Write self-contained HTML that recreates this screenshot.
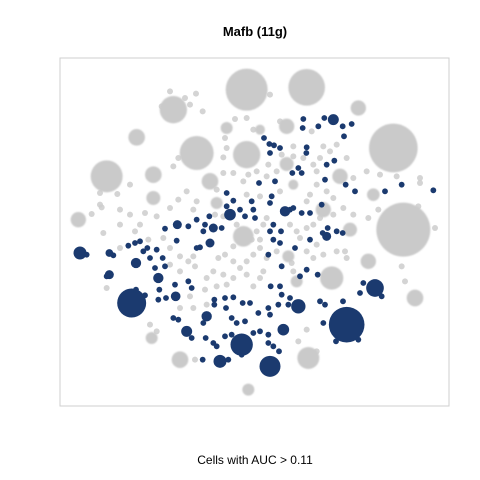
<!DOCTYPE html>
<html><head><meta charset="utf-8"><style>
html,body{margin:0;padding:0;background:#fff;}
svg{display:block;font-family:"Liberation Sans",sans-serif;}
</style></head><body>
<svg id="chart" width="480" height="480" viewBox="0 0 480 480">
<defs><filter id="soft" x="-20%" y="-20%" width="140%" height="140%"><feGaussianBlur stdDeviation="0.8"/></filter></defs>
<rect x="0" y="0" width="480" height="480" fill="#fff"/>
<text x="255" y="36" text-anchor="middle" font-size="13" font-weight="bold" fill="#000">Mafb (11g)</text>
<rect x="60" y="58" width="389" height="348" fill="none" stroke="#cfcfcf" stroke-width="1"/>
<g id="marks"></g>
<text x="255" y="464" text-anchor="middle" font-size="12" fill="#000">Cells with AUC &gt; 0.11</text>
</svg>
<script>
// cluster data: [x, y, radius] in embedding units
const greyClusters=[[560,95,60],[740,88,52],[340,155,38],[410,285,48],[560,290,38],[1000,270,70],[1030,515,78],[140,355,45],[230,238,22],[895,150,20],[280,350,22],[55,485,20],[550,535,28],[815,660,32],[925,610,20],[1065,720,22],[745,900,30],[360,905,22],[275,840,15],[565,995,15],[680,205,20],[500,210,15],[680,318,18],[840,355,20],[280,420,18],[450,370,22],[790,455,20],[940,410,16],[870,515,18],[470,435,15],[600,215,12],[685,595,15],[710,670,15],[700,380,12]];
const blueClusters=[[215,735,42],[860,800,52],[630,925,30],[545,860,32],[945,690,25],[60,585,18],[148,650,12],[148,585,10],[480,910,18],[715,745,20],[670,815,16],[380,820,15],[295,660,14],[228,615,14],[347,715,13],[352,500,12],[510,470,16],[450,555,12],[460,510,12],[820,185,15],[675,460,14],[440,775,14],[800,535,12]];
const bluePoints=[[730,183],[793,180],[775,205],[728,210],[848,205],[875,198],[852,235],[612,240],[628,258],[642,262],[660,270],[630,285],[740,268],[739,285],[800,320],[823,308],[715,330],[697,345],[725,345],[795,365],[857,380],[885,400],[1025,380],[975,400],[1120,397],[597,375],[500,405],[520,428],[500,445],[540,455],[575,430],[580,455],[555,475],[585,480],[635,415],[630,435],[690,455],[725,465],[750,465],[785,440],[803,510],[830,520],[848,525],[788,525],[750,545],[705,570],[660,555],[640,545],[630,520],[663,520],[640,500],[625,590],[665,625],[740,635],[773,650],[448,475],[435,500],[410,485],[385,505],[430,520],[485,510],[315,512],[350,548],[205,563],[225,555],[240,550],[250,580],[270,600],[262,570],[290,575],[308,600],[315,625],[285,630],[410,570],[420,568],[160,592],[80,590],[140,655],[345,680],[385,670],[395,690],[298,695],[295,725],[318,720],[255,712],[228,695],[463,725],[495,720],[520,718],[463,740],[498,750],[548,735],[570,735],[595,765],[625,750],[630,770],[632,685],[660,685],[665,710],[690,720],[655,740],[685,740],[780,730],[795,740],[849,730],[900,705],[910,675],[965,715],[790,795],[828,850],[895,845],[340,780],[355,785],[395,840],[437,840],[445,775],[430,795],[515,780],[530,795],[555,790],[515,830],[495,835],[580,825],[600,820],[625,830],[460,855],[470,865],[625,855],[640,865],[657,880],[428,905],[505,905],[545,890],[720,655],[645,370],[700,450]];
const greyPoints=[[330,100],[408,107],[375,120],[390,140],[428,160],[305,145],[630,110],[525,183],[560,180],[660,190],[580,215],[495,240],[500,270],[490,298],[355,300],[340,325],[210,380],[120,405],[172,408],[125,448],[180,455],[210,470],[255,465],[290,475],[240,500],[180,500],[225,520],[130,525],[95,468],[265,545],[310,540],[330,570],[360,595],[385,610],[400,595],[405,625],[360,640],[330,620],[330,450],[355,425],[380,400],[410,430],[400,455],[470,395],[490,345],[520,345],[550,370],[565,350],[590,340],[625,320],[620,355],[650,340],[660,400],[600,415],[560,410],[465,470],[490,475],[530,500],[520,565],[495,590],[475,600],[520,610],[540,630],[560,610],[580,590],[600,570],[620,600],[650,580],[560,650],[520,660],[490,650],[460,640],[440,660],[435,695],[470,685],[500,680],[580,685],[600,660],[610,640],[690,500],[710,520],[720,540],[740,510],[760,500],[780,480],[820,470],[850,450],[880,470],[820,420],[800,400],[770,380],[750,410],[740,430],[730,300],[760,320],[780,300],[810,280],[830,260],[860,300],[880,360],[920,340],[955,455],[925,480],[1080,360],[1080,375],[1075,445],[1125,510],[1025,625],[1035,670],[860,600],[855,580],[830,580],[790,590],[770,560],[760,600],[740,580],[695,615],[700,640],[440,740],[400,750],[390,715],[360,750],[740,815],[715,850],[770,880],[405,905],[290,820],[270,800],[180,570],[140,690],[590,520],[610,500],[620,480],[575,545],[600,545],[665,290],[700,265],[700,295],[755,220],[790,265],[770,340],[960,350],[1010,355],[120,440]];

const NS="http://www.w3.org/2000/svg";
const g=document.getElementById('marks');
function sx(v){return 60+v/3;}
function sy(v){return 58+v/3;}
function sr(v){return v/3;}
function circ(x,y,r,fill,op){
  const c=document.createElementNS(NS,'circle');
  c.setAttribute('cx',sx(x).toFixed(2));
  c.setAttribute('cy',sy(y).toFixed(2));
  c.setAttribute('r',r.toFixed(2));
  c.setAttribute('fill',fill);
  c.setAttribute('fill-opacity',op);
  g.appendChild(c);
  return c;
}
greyPoints.forEach(p=>{
  const c=circ(p[0],p[1],3,'#cccccc',0.85);
  
  
});
greyClusters.forEach(p=>{
  const c=circ(p[0],p[1],sr(p[2])+1,'#cacaca',1);
  c.setAttribute('filter','url(#soft)');
  
  
});
blueClusters.forEach(p=>{
  const c=circ(p[0],p[1],sr(p[2])+0.5,'#1b3a6f',1);
  
  
});
bluePoints.forEach(p=>{
  const c=circ(p[0],p[1],2.9,'#1b3a6f',1);
  
  
});
</script>
</body></html>
